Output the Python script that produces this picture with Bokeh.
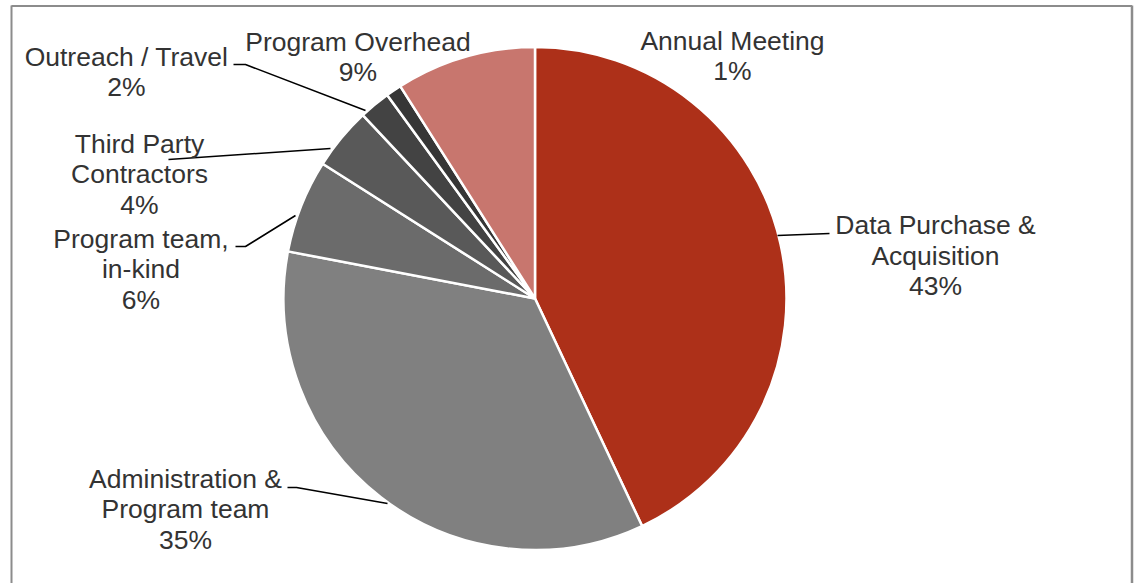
import numpy as np
from bokeh.plotting import figure
from bokeh.models import Range1d, ColumnDataSource
from bokeh.core.properties import value
from bokeh.embed import file_html
from bokeh.resources import INLINE

# ---- data ----
categories = ["Data Purchase & Acquisition", "Administration & Program team",
              "Program team, in-kind", "Third Party Contractors",
              "Outreach / Travel", "Annual Meeting", "Program Overhead"]
shares = [43, 35, 6, 4, 2, 1, 9]
colors = ["#AD3019", "#808080", "#6B6B6B", "#595959", "#434343", "#363636", "#C8766E"]
label_lines = [["Data Purchase &", "Acquisition"],
               ["Administration &", "Program team"],
               ["Program team,", "in-kind"],
               ["Third Party", "Contractors"],
               ["Outreach / Travel"],
               ["Annual Meeting"],
               ["Program Overhead"]]

# ---- layout (screen pixel coordinates) ----
W, H = 1139, 583
def sy(y):
    return H - y

CX, CY, R = 534.5, 298, 251.5
TEXT_SHIFT = -9
label_anchor = [(935, 233.5), (185, 487), (140.5, 247), (139, 152),
                (126, 65), (732, 49), (357.5, 50)]
LINE_H = 30.6
leaders = [
    [(777, 235), (829, 233)],
    [(287, 487), (296, 487), (387, 503)],
    [(235, 246), (245, 246), (295, 215)],
    [(168, 159), (330, 148)],
    [(233, 64), (245, 64), (365, 110)],
    None,
    None,
]

p = figure(width=W, height=H, output_backend="svg", toolbar_location=None,
           x_range=Range1d(0, W), y_range=Range1d(0, H),
           min_border=0, outline_line_color=None)
p.axis.visible = False
p.grid.visible = False
p.background_fill_color = "white"
p.border_fill_color = "white"

# frame of the chart area
p.line([11, 11], [sy(H), sy(5)], line_color="#8C8C8C", line_width=2)
p.line([11, 1131.5], [sy(5.5), sy(5.5)], line_color="#8C8C8C", line_width=2)
p.line([1131.5, 1131.5], [sy(5), sy(H)], line_color="#8C8C8C", line_width=2.5)

# pie
total = float(sum(shares))
fr = np.array(shares) / total
cum = np.concatenate([[0], np.cumsum(fr)])
start = np.pi / 2 - 2 * np.pi * cum[:-1]
end = np.pi / 2 - 2 * np.pi * cum[1:]
src = ColumnDataSource(dict(start=start, end=end, color=colors, cat=categories))
p.wedge(x=CX, y=sy(CY), radius=R, radius_units="screen",
        start_angle="start", end_angle="end", direction="clock",
        fill_color="color", line_color="white", line_width=2.5, source=src)

# leader lines
for ld in leaders:
    if ld is None:
        continue
    p.line([a for a, b in ld], [sy(b) for a, b in ld], line_color="black", line_width=1.6)

# labels
tx, ty, tt = [], [], []
for lines, s, (ax, ay) in zip(label_lines, shares, label_anchor):
    allines = lines + [f"{s}%"]
    for k, t in enumerate(allines):
        tx.append(ax)
        ty.append(sy(ay + TEXT_SHIFT + k * LINE_H))
        tt.append(t)
p.text(x=tx, y=ty, text=tt, text_align="center", text_baseline="alphabetic",
       text_font=value("Liberation Sans"), text_font_size=value("26.5px"),
       text_color="#333333")

open("out.html", "w").write(file_html(p, INLINE))
